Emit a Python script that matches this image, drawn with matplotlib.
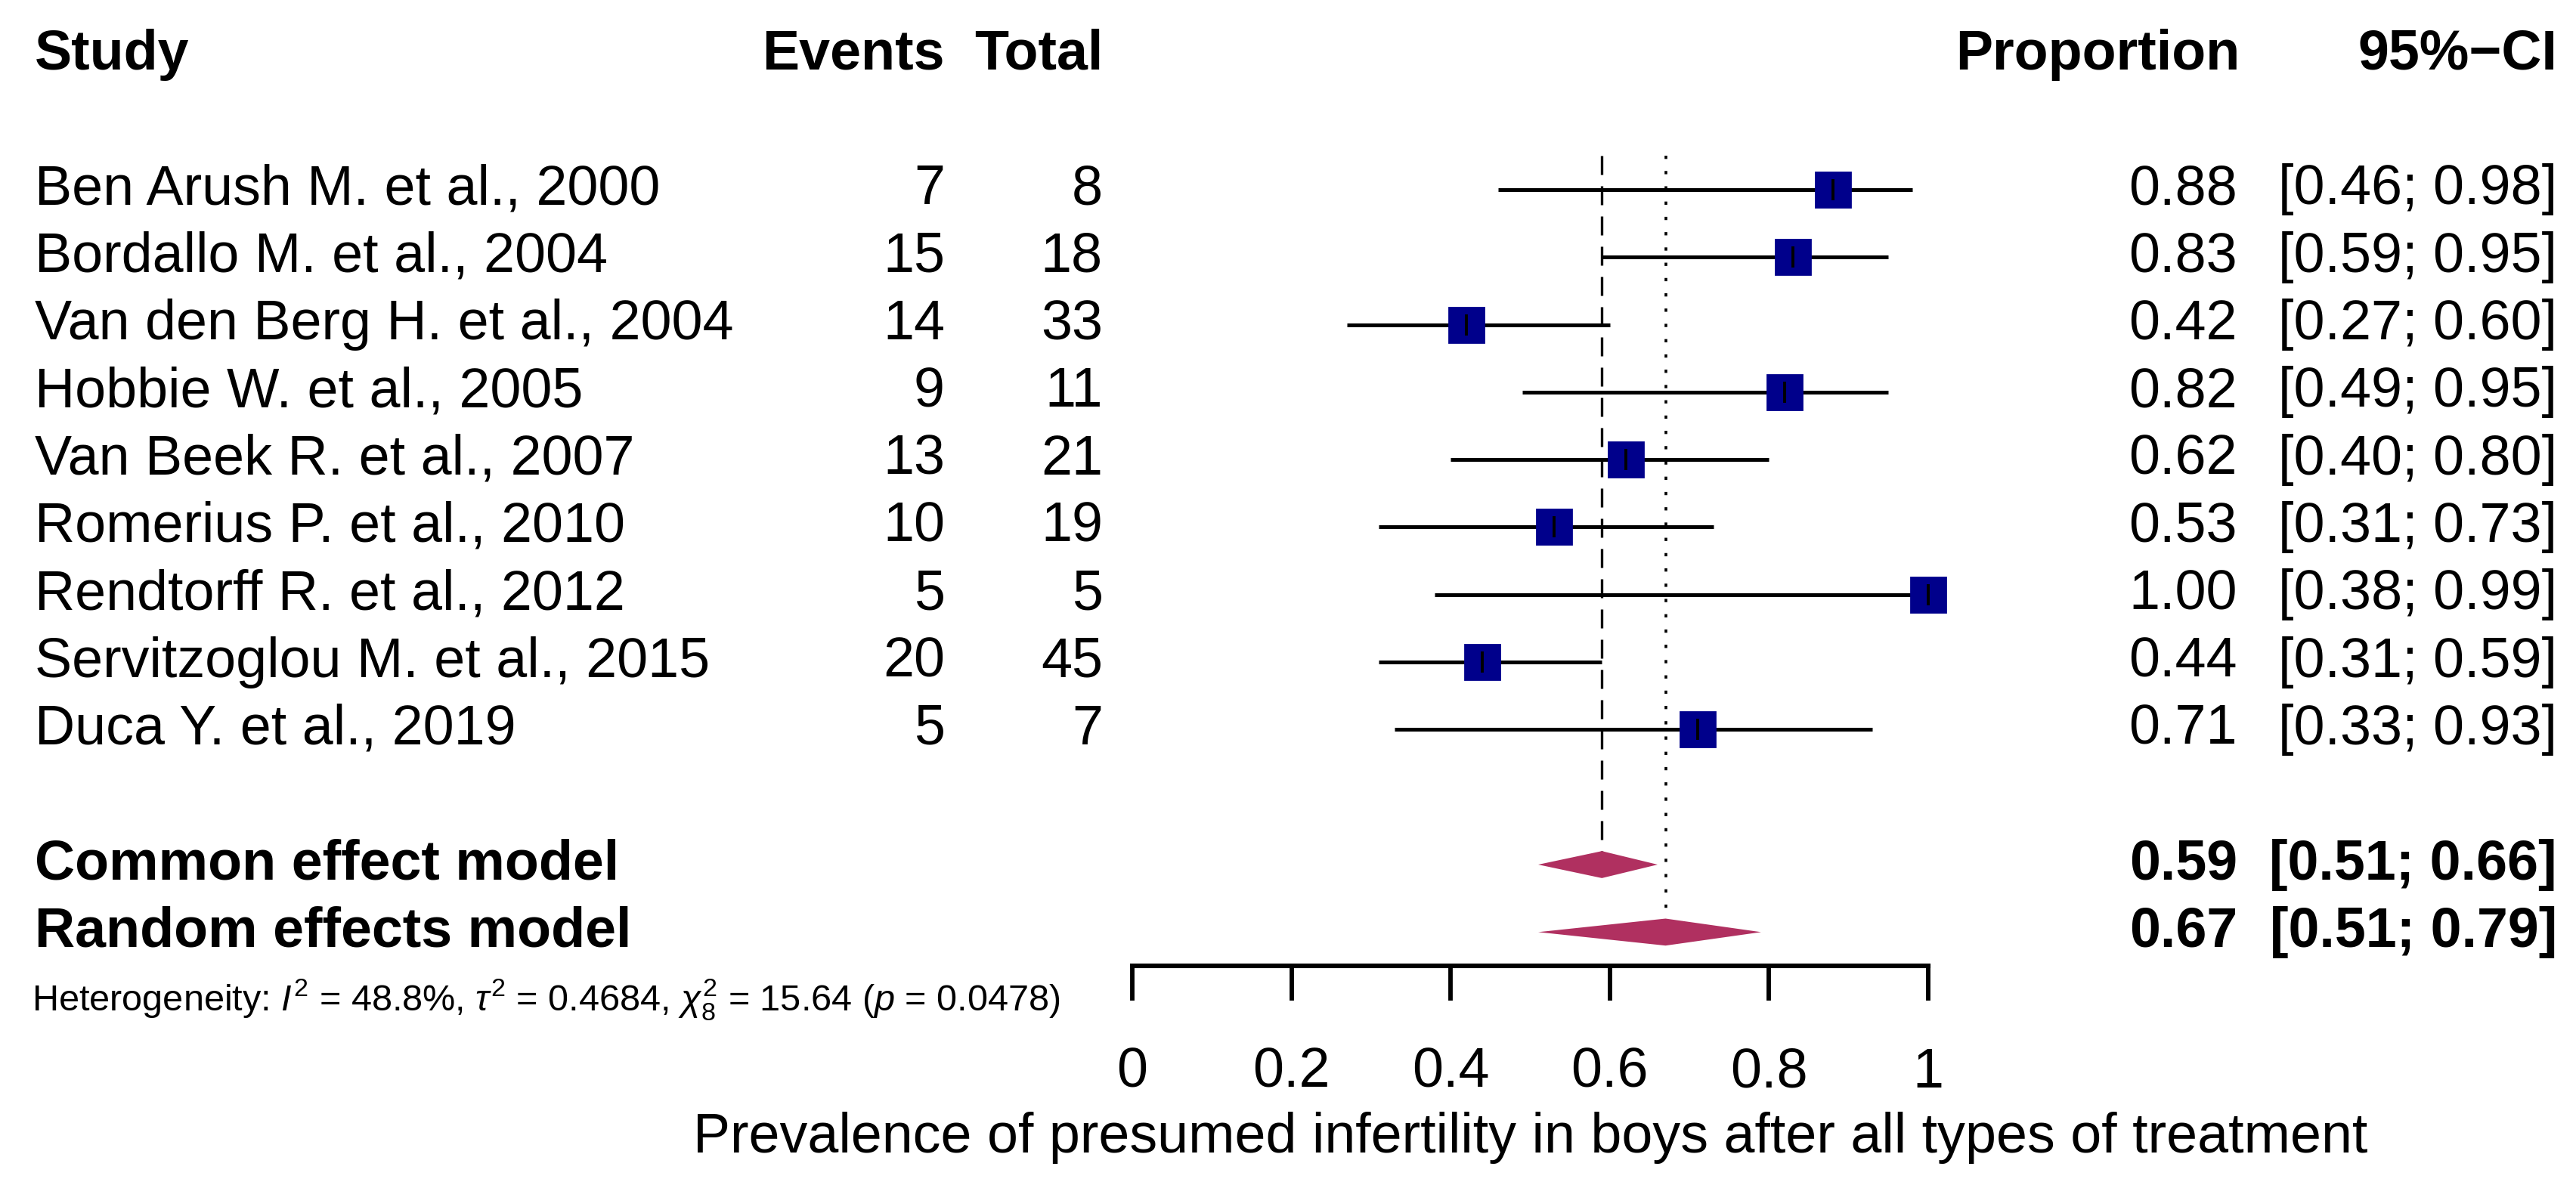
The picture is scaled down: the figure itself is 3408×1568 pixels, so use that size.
import matplotlib
matplotlib.use("Agg")
import matplotlib.pyplot as plt
from matplotlib.transforms import blended_transform_factory
import numpy as np

plt.rcParams['font.family'] = 'Liberation Sans'
plt.rcParams['mathtext.fontset'] = 'custom'
plt.rcParams['mathtext.rm'] = 'Liberation Sans'
plt.rcParams['mathtext.it'] = 'Liberation Sans:italic'

# -------- Data --------
studies = ["Ben Arush M. et al., 2000", "Bordallo M. et al., 2004",
           "Van den Berg H. et al., 2004", "Hobbie W. et al., 2005",
           "Van Beek R. et al., 2007", "Romerius P. et al., 2010",
           "Rendtorff R. et al., 2012", "Servitzoglou M. et al., 2015",
           "Duca Y. et al., 2019"]
events = [7, 15, 14, 9, 13, 10, 5, 20, 5]
totals = [8, 18, 33, 11, 21, 19, 5, 45, 7]
props = [0.88, 0.83, 0.42, 0.82, 0.62, 0.53, 1.00, 0.44, 0.71]
ci_lo = [0.46, 0.59, 0.27, 0.49, 0.40, 0.31, 0.38, 0.31, 0.33]
ci_hi = [0.98, 0.95, 0.60, 0.95, 0.80, 0.73, 0.99, 0.59, 0.93]

models = ["Common effect model", "Random effects model"]
model_est = [0.59, 0.67]
model_lo = [0.51, 0.51]
model_hi = [0.66, 0.79]

xticks = [0, 0.2, 0.4, 0.6, 0.8, 1]
xtick_labels = ["0", "0.2", "0.4", "0.6", "0.8", "1"]

hetero = (r"Heterogeneity: $I^2$ = 48.8%, $\tau^2$ = 0.4684, "
          r"$\chi^2_8$ = 15.64 ($p$ = 0.0478)")
xlabel = "Prevalence of presumed infertility in boys after all types of treatment"

# -------- Layout (pixels of the 3408x1568 canvas) --------
W, H = 3408, 1568
FS = 26.5
fig = plt.figure(figsize=(W / 200, H / 200), dpi=200)
ax = fig.add_axes([1498 / W, 1 - 1278 / H, 1053 / W, 1278 / H])
ax.set_facecolor('none')
ax.set_xlim(0, 1)
ax.set_ylim(11.5, -2.81)

rows = np.arange(len(studies))
model_rows = [10, 11]

# reference lines (common: dashed, random: dotted)
ax.vlines(model_est[0], -0.5, model_rows[0], colors='black', lw=1.2,
          linestyles=(0, (7.5, 4.5)), zorder=1)
ax.vlines(model_est[1], -0.5, model_rows[1], colors='black', lw=1.3,
          linestyles=(0, (1.2, 4.4)), zorder=1)

# study CIs and squares
ax.hlines(rows, ci_lo, ci_hi, color='black', lw=1.8, zorder=2)
ax.plot(props, rows, 's', ms=16.5, color='#00008B', mec='#00008B',
        zorder=3, clip_on=False)
ax.plot(props, rows, '|', ms=10, mew=1.4, color='black', zorder=4, clip_on=False)

# pooled diamonds
for est, lo, hi, r in zip(model_est, model_lo, model_hi, model_rows):
    ax.fill([lo, est, hi, est], [r, r - 0.2, r, r + 0.2],
            color='#B03060', lw=0, zorder=3)

# x axis
for s in ['left', 'right', 'top']:
    ax.spines[s].set_visible(False)
ax.spines['bottom'].set_linewidth(2.2)
ax.spines['bottom'].set_capstyle('projecting')
ax.set_yticks([])
ax.set_xticks(xticks, xtick_labels)
ax.tick_params(axis='x', length=16.5, width=2.1, pad=22, labelsize=FS)
ax.set_xlabel(xlabel, fontsize=FS, labelpad=6)

# -------- Text columns --------
tr = blended_transform_factory(fig.transFigure, ax.transData)

def col(px):
    return px / W

hdr = dict(transform=tr, fontsize=FS, fontweight='bold', va='center')
ax.text(col(46), -2, "Study", ha='left', **hdr)
ax.text(col(1250), -2, "Events", ha='right', **hdr)
ax.text(col(1459), -2, "Total", ha='right', **hdr)
ax.text(col(2963), -2, "Proportion", ha='right', **hdr)
ax.text(col(3383), -2, "95%\u2212CI", ha='right', **hdr)

txt = dict(transform=tr, fontsize=FS, va='center')
for r, name, ev, tot, p, lo, hi in zip(rows, studies, events, totals, props, ci_lo, ci_hi):
    ax.text(col(46), r, name, ha='left', **txt)
    ax.text(col(1250), r, str(ev), ha='right', **txt)
    ax.text(col(1459), r, str(tot), ha='right', **txt)
    ax.text(col(2960), r, f"{p:.2f}", ha='right', **txt)
    ax.text(col(3383), r, f"[{lo:.2f}; {hi:.2f}]", ha='right', **txt)

for r, name, est, lo, hi in zip(model_rows, models, model_est, model_lo, model_hi):
    ax.text(col(46), r, name, ha='left', fontweight='bold', **txt)
    ax.text(col(2960), r, f"{est:.2f}", ha='right', fontweight='bold', **txt)
    ax.text(col(3383), r, f"[{lo:.2f}; {hi:.2f}]", ha='right', fontweight='bold', **txt)

ax.text(col(42), 12.0, hetero, ha='left', va='center', transform=tr, fontsize=17.5)

fig.savefig("out.png", dpi=200)
